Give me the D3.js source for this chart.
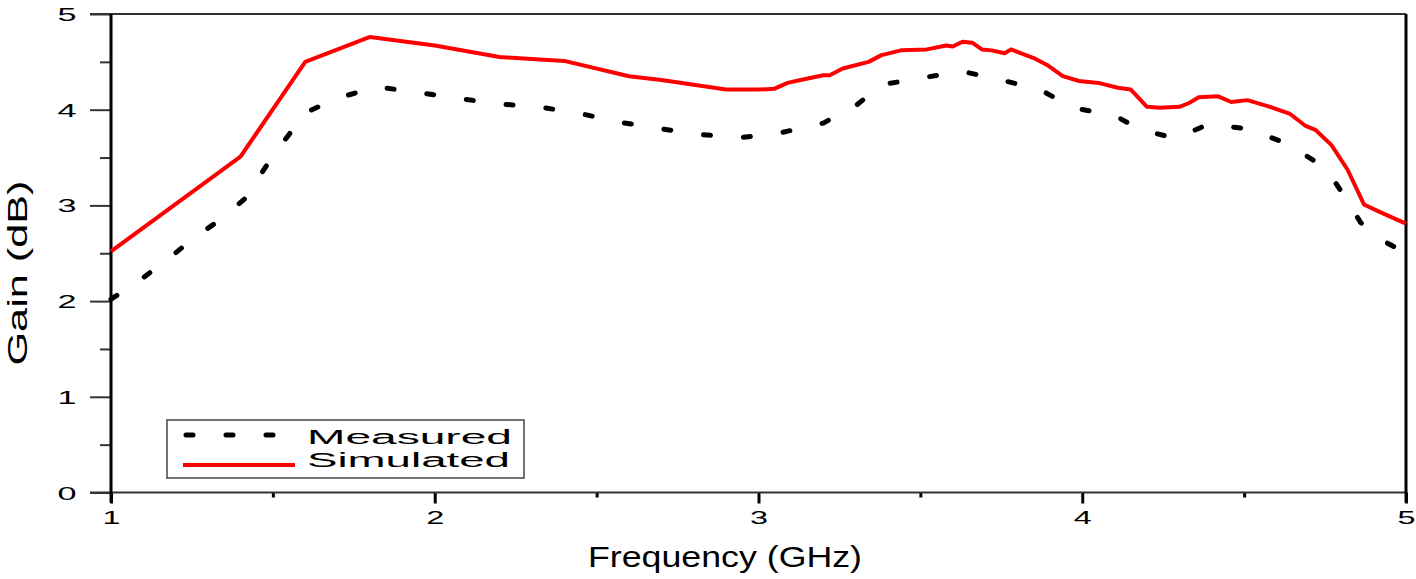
<!DOCTYPE html>
<html>
<head>
<meta charset="utf-8">
<script src="https://cdn.jsdelivr.net/npm/d3@7"></script>
<style>
  body { margin: 0; background: #fff; }
  text { font-family: "Liberation Sans", Arial, sans-serif; fill: #000; }
</style>
</head>
<body>
<div id="chart"></div>
<script>
var simFreq = [1.0, 1.4, 1.6, 1.8, 2.0, 2.2, 2.4, 2.6, 2.7, 2.9, 3.0, 3.05, 3.09, 3.13, 3.2, 3.22, 3.26, 3.34, 3.38, 3.44,
  3.52, 3.58, 3.6, 3.63, 3.66, 3.69, 3.72, 3.76, 3.78, 3.85, 3.89, 3.94, 3.99, 4.05, 4.11, 4.15, 4.2, 4.24, 4.3, 4.33,
  4.36, 4.42, 4.46, 4.51, 4.58, 4.64, 4.69, 4.72, 4.77, 4.82, 4.87, 4.92, 5.0];
var simGain = [2.52, 3.51, 4.50, 4.76, 4.67, 4.55, 4.51, 4.35, 4.31, 4.21, 4.21, 4.22, 4.28, 4.31, 4.36, 4.36, 4.43, 4.50, 4.57, 4.62,
  4.63, 4.67, 4.66, 4.71, 4.70, 4.63, 4.62, 4.59, 4.63, 4.54, 4.47, 4.35, 4.30, 4.28, 4.23, 4.21, 4.03, 4.02, 4.03, 4.07,
  4.13, 4.14, 4.08, 4.10, 4.03, 3.96, 3.83, 3.79, 3.63, 3.37, 3.01, 2.93, 2.81];

var measFreq = [1.0, 1.09, 1.18, 1.26, 1.35, 1.42, 1.46, 1.5, 1.55, 1.59, 1.69, 1.82, 1.95, 2.07, 2.2, 2.32, 2.45, 2.57, 2.7, 2.82,
  2.95, 3.07, 3.2, 3.3, 3.38, 3.5, 3.63, 3.75, 3.87, 3.97, 4.1, 4.18, 4.29, 4.39, 4.51, 4.63, 4.72, 4.78, 4.82, 4.86, 4.94, 5.0];
var measGain = [2.02, 2.22, 2.45, 2.67, 2.88, 3.09, 3.31, 3.52, 3.74, 3.95, 4.11, 4.24, 4.18, 4.12, 4.06, 4.03, 3.96, 3.87, 3.80, 3.74,
  3.71, 3.76, 3.86, 4.04, 4.26, 4.33, 4.40, 4.31, 4.21, 4.02, 3.94, 3.79, 3.70, 3.85, 3.80, 3.65, 3.46, 3.25, 3.04, 2.82, 2.61, 2.50];

var xTicks = [1, 2, 3, 4, 5];
var xMinorTicks = [1.5, 2.5, 3.5, 4.5];
var yTicks = [0, 1, 2, 3, 4, 5];
var yMinorTicks = [0.5, 1.5, 2.5, 3.5, 4.5];
var seriesNames = ['Measured', 'Simulated'];

(function() {
  var margin = {top: 14, right: 10, bottom: 86.5, left: 111};
  var width = 1416 - margin.left - margin.right;
  var height = 579 - margin.top - margin.bottom;

  var xPositionScale = d3.scaleLinear().domain([1, 5]).range([0, width]);
  var yPositionScale = d3.scaleLinear().domain([0, 5]).range([height, 0]);

  var root = d3.select('#chart')
    .append('svg')
    .attr('width', 1416)
    .attr('height', 579);

  var svg = root.append('g')
    .attr('transform', 'translate(' + margin.left + ',' + margin.top + ')');

  // ticks
  var yAxis = d3.axisLeft(yPositionScale).tickValues(yTicks).tickSize(21).tickFormat(d3.format('d'));
  var yG = svg.append('g').attr('class', 'axis axis-y').call(yAxis);
  yG.select('.domain').remove();
  yG.selectAll('line').attr('stroke', '#333').attr('stroke-width', 2);
  yG.selectAll('text')
    .attr('x', -44).attr('dy', null).attr('y', 6.5)
    .attr('text-anchor', 'middle')
    .style('font-size', '18px')
    .attr('textLength', 19).attr('lengthAdjust', 'spacingAndGlyphs');

  var yMinor = d3.axisLeft(yPositionScale).tickValues(yMinorTicks).tickSize(11).tickFormat('');
  var yMG = svg.append('g').call(yMinor);
  yMG.select('.domain').remove();
  yMG.selectAll('line').attr('stroke', '#333').attr('stroke-width', 2);

  var xAxis = d3.axisBottom(xPositionScale).tickValues(xTicks).tickSize(11).tickFormat(d3.format('d'));
  var xG = svg.append('g').attr('class', 'axis axis-x')
    .attr('transform', 'translate(0,' + height + ')').call(xAxis);
  xG.select('.domain').remove();
  xG.selectAll('line').attr('stroke', '#000').attr('stroke-width', 3);
  xG.selectAll('text')
    .attr('dy', null).attr('y', 31.5)
    .style('font-size', '18px')
    .attr('textLength', 18).attr('lengthAdjust', 'spacingAndGlyphs');

  var xMinor = d3.axisBottom(xPositionScale).tickValues(xMinorTicks).tickSize(5).tickFormat('');
  var xMG = svg.append('g').attr('transform', 'translate(0,' + height + ')').call(xMinor);
  xMG.select('.domain').remove();
  xMG.selectAll('line').attr('stroke', '#000').attr('stroke-width', 3);

  // frame
  svg.append('line').attr('x1', -21).attr('x2', width).attr('y1', 0).attr('y2', 0)
    .attr('stroke', '#333').attr('stroke-width', 2);
  svg.append('line').attr('x1', -21).attr('x2', width).attr('y1', height).attr('y2', height)
    .attr('stroke', '#333').attr('stroke-width', 2);
  svg.append('line').attr('x1', 0).attr('x2', 0).attr('y1', 0).attr('y2', height + 10)
    .attr('stroke', '#000').attr('stroke-width', 3);
  svg.append('line').attr('x1', width).attr('x2', width).attr('y1', 0).attr('y2', height + 10)
    .attr('stroke', '#000').attr('stroke-width', 3);

  // curves
  var line = d3.line()
    .x(d => xPositionScale(d[0]))
    .y(d => yPositionScale(d[1]));

  var measured = measFreq.map((f, i) => [f, measGain[i]]);
  var simulated = simFreq.map((f, i) => [f, simGain[i]]);

  svg.append('path')
    .datum(measured)
    .attr('d', line)
    .attr('fill', 'none')
    .attr('stroke', '#000')
    .attr('stroke-width', 5)
    .attr('stroke-linecap', 'round')
    .attr('stroke-dasharray', '7,33');

  svg.append('path')
    .datum(simulated)
    .attr('d', line)
    .attr('fill', 'none')
    .attr('stroke', '#ff0000')
    .attr('stroke-width', 4)
    .attr('stroke-linejoin', 'round');

  // axis titles
  root.append('text')
    .attr('transform', 'translate(27,273) rotate(-90)')
    .attr('text-anchor', 'middle')
    .style('font-size', '28px')
    .attr('textLength', 185).attr('lengthAdjust', 'spacingAndGlyphs')
    .text('Gain (dB)');

  root.append('text')
    .attr('x', 725).attr('y', 567)
    .attr('text-anchor', 'middle')
    .style('font-size', '30px')
    .attr('textLength', 274).attr('lengthAdjust', 'spacingAndGlyphs')
    .text('Frequency (GHz)');

  // legend
  var legend = root.append('g').attr('class', 'legend');
  legend.append('rect')
    .attr('x', 167).attr('y', 420).attr('width', 357).attr('height', 58)
    .attr('fill', '#fff').attr('stroke', '#444').attr('stroke-width', 1.5);

  legend.append('line')
    .attr('x1', 186).attr('x2', 296).attr('y1', 435).attr('y2', 435)
    .attr('stroke', '#000').attr('stroke-width', 5)
    .attr('stroke-linecap', 'round').attr('stroke-dasharray', '7,33');
  legend.append('line')
    .attr('x1', 183).attr('x2', 295).attr('y1', 465).attr('y2', 465)
    .attr('stroke', '#ff0000').attr('stroke-width', 4);

  legend.selectAll('.label')
    .data(seriesNames)
    .enter().append('text')
    .attr('class', 'label')
    .attr('x', 307)
    .attr('y', (d, i) => 444 + i * 23)
    .style('font-size', '20px')
    .attr('textLength', (d, i) => i === 0 ? 205 : 203)
    .attr('lengthAdjust', 'spacingAndGlyphs')
    .text(d => d);
})();
</script>
</body>
</html>
